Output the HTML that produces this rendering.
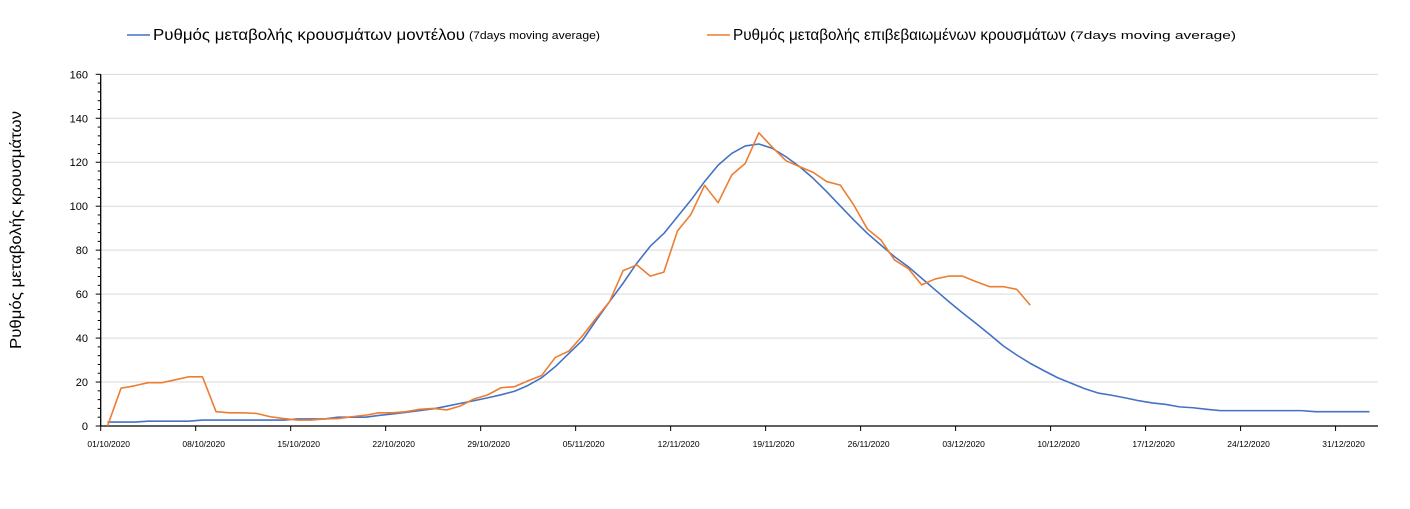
<!DOCTYPE html>
<html><head><meta charset="utf-8"><style>
body{margin:0;background:#fff;}
svg{display:block;font-family:"Liberation Sans","DejaVu Sans",sans-serif;}
</style></head><body>
<svg id="chart" width="1410" height="509">
<g id="legend">
 <g>
  <line x1="127" y1="35" x2="150" y2="35" stroke="#4472c4" stroke-width="1.5"/>
  <text x="153" y="40" font-size="15.5" fill="#000" textLength="312" lengthAdjust="spacingAndGlyphs">Ρυθμός μεταβολής κρουσμάτων μοντέλου</text>
  <text x="469" y="39" font-size="11" fill="#000" textLength="131" lengthAdjust="spacingAndGlyphs">(7days moving average)</text>
 </g>
 <g>
  <line x1="707" y1="35" x2="730" y2="35" stroke="#ed7d31" stroke-width="1.5"/>
  <text x="733" y="40" font-size="15.5" fill="#000" textLength="333" lengthAdjust="spacingAndGlyphs">Ρυθμός μεταβολής επιβεβαιωμένων κρουσμάτων</text>
  <text x="1070" y="39" font-size="11" fill="#000" textLength="166" lengthAdjust="spacingAndGlyphs">(7days moving average)</text>
 </g>
</g>
<text transform="translate(21,230) rotate(-90)" text-anchor="middle" font-size="16" fill="#000" textLength="238" lengthAdjust="spacingAndGlyphs">Ρυθμός μεταβολής κρουσμάτων</text>
<g id="grid"></g><g id="axes"></g><g id="series"></g>
</svg>
<script>
const yTicks=[0,20,40,60,80,100,120,140,160];
const xTickLabels=["01/10/2020","08/10/2020","15/10/2020","22/10/2020","29/10/2020","05/11/2020","12/11/2020","19/11/2020","26/11/2020","03/12/2020","10/12/2020","17/12/2020","24/12/2020","31/12/2020"];
const modelValues=[1.8,1.8,1.8,2.2,2.2,2.2,2.2,2.7,2.7,2.7,2.7,2.7,2.7,2.7,3.2,3.2,3.2,4,4,4,4.8,5.5,6.2,7,7.8,9,10.3,11.5,12.8,14.2,15.8,18.5,22,27,33,39,48,56.6,65,74,81.8,87.6,95.2,102.8,111.2,118.7,124,127.4,128.3,126.3,122.5,118,112.7,106.6,100.1,93.7,87.6,82.3,77,72.5,67.2,61.9,56.6,51.5,46.7,41.7,36.5,32.3,28.5,25.2,22,19.5,17,15,14,12.8,11.5,10.5,9.8,8.7,8.3,7.6,7,7,7,7,7,7,7,6.5,6.5,6.5,6.5,6.5];
const confirmedValues=[0,17.2,18.3,19.7,19.7,21,22.4,22.4,6.5,6,6,5.7,4.2,3.4,2.7,2.7,3.2,3.4,4.2,4.9,6,6,6.5,7.6,8,7.3,9.1,12.3,14.1,17.4,17.9,20.6,23,31.2,34.1,41,49,56.6,70.7,73.3,68.2,70,88.7,96.3,109.5,101.6,114.2,119.5,133.4,126.8,120.7,118,115.4,111.2,109.6,100.5,89.6,84.6,75.5,71.7,64.2,66.9,68.2,68.2,65.7,63.4,63.4,62.2,55];
const NS="http://www.w3.org/2000/svg";
const X0=100.7,DAY=13.57,Y0=426,YPX=2.198,XR=1378;
function xs(d){return X0+(d+0.5)*DAY;}
function ys(v){return Y0-v*YPX;}
function mk(tag,attrs,parent){const e=document.createElementNS(NS,tag);for(const k in attrs)e.setAttribute(k,attrs[k]);parent.appendChild(e);return e;}
const grid=document.getElementById('grid'),axes=document.getElementById('axes'),series=document.getElementById('series');
yTicks.forEach(v=>{
 if(v>0){const g=mk('line',{x1:X0,x2:XR,y1:ys(v),y2:ys(v),stroke:'#d9d9d9','stroke-width':1},grid);
 
 }
 const t=mk('text',{x:88,y:ys(v)+4,'text-anchor':'end','font-size':11,fill:'#000'},axes);
 t.textContent=v;
 
 
 mk('line',{x1:X0-5,x2:X0,y1:ys(v),y2:ys(v),stroke:'#000'},axes);
});
for(let v=4;v<160;v+=4){if(v%20)mk('line',{x1:X0-3,x2:X0,y1:ys(v),y2:ys(v),stroke:'#000'},axes);}
const ya=mk('line',{x1:X0,x2:X0,y1:ys(160),y2:Y0,stroke:'#000','stroke-width':1.3},axes);


const xa=mk('line',{x1:X0,x2:XR,y1:Y0,y2:Y0,stroke:'#000','stroke-width':1.3},axes);


xTickLabels.forEach((s,i)=>{
 const x=X0+i*7*DAY;
 mk('line',{x1:x,x2:x,y1:Y0,y2:Y0+5,stroke:'#000'},axes);
 const t=mk('text',{x:x+8,y:447,'text-anchor':'middle','font-size':8.5,fill:'#000'},axes);
 t.textContent=s;
 
 
});
function line(vals,color,name){
 const p=mk('polyline',{points:vals.map((v,i)=>xs(i)+','+ys(v)).join(' '),fill:'none',stroke:color,'stroke-width':1.6,'stroke-linejoin':'round'},series);
 
 
}
line(modelValues,'#4472c4','model-series-line');
line(confirmedValues,'#ed7d31','confirmed-series-line');
</script>
</body></html>
